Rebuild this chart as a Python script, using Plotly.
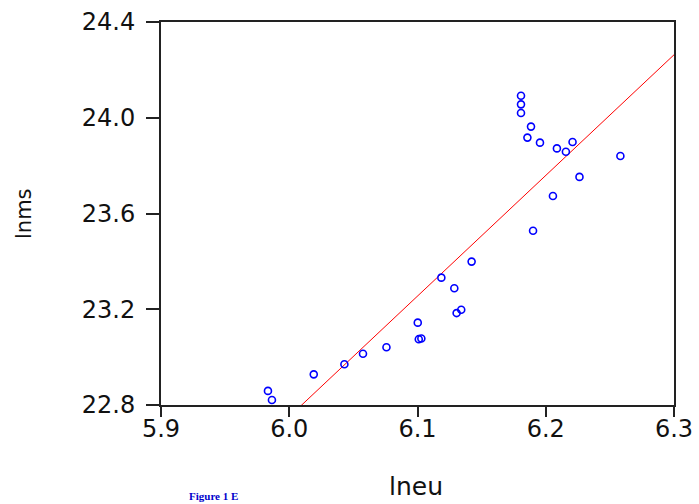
import plotly.graph_objects as go
import numpy as np

# Scatter data (lneu, lnms)
lneu = [6.1807, 6.1807, 6.1807, 6.1885, 6.1857, 6.1955, 6.2087, 6.2157, 6.2209,
        6.2582, 6.2263, 6.2056, 6.1901, 6.1422, 6.1186, 6.1287, 6.1341, 6.1305,
        6.1002, 6.1010, 6.1030, 6.0758, 6.0575, 6.0430, 6.0191, 5.9834, 5.9865]
lnms = [24.092, 24.056, 24.020, 23.963, 23.917, 23.896, 23.872, 23.858, 23.899,
        23.840, 23.753, 23.673, 23.528, 23.399, 23.332, 23.288, 23.198, 23.184,
        23.144, 23.075, 23.078, 23.041, 23.014, 22.970, 22.928, 22.859, 22.821]

# Fitted regression line
fit_slope = 5.04
fit_intercept = -7.489
fit_range = [6.0, 6.3]

x_ticks = [5.9, 6.0, 6.1, 6.2, 6.3]
y_ticks = [22.8, 23.2, 23.6, 24.0, 24.4]

fx = np.array(fit_range)
fy = fit_intercept + fit_slope * fx

fig = go.Figure()
fig.add_trace(go.Scatter(x=fx, y=fy, mode="lines",
                         line=dict(color="#ff0000", width=1),
                         showlegend=False))
fig.add_trace(go.Scatter(x=lneu, y=lnms, mode="markers", xaxis="x2", yaxis="y",
                         marker=dict(symbol="circle-open", size=7, color="#0000ff",
                                     line=dict(width=1.6, color="#0000ff")),
                         showlegend=False, cliponaxis=False))

tickfont = dict(family="DejaVu Sans", size=24, color="#111111")
axis_common = dict(showgrid=False, zeroline=False, showline=True, linecolor="#222222",
                   linewidth=2, mirror=True, ticks="outside", tickcolor="#222222",
                   tickwidth=1.5, tickfont=tickfont, automargin=False)

L, R, T, B = 161, 25, 22, 99
W, H = 699, 504
plot_w = W - L - R
plot_h = H - T - B

fig.update_layout(
    width=W, height=H,
    margin=dict(l=L, r=R, t=T, b=B, pad=0),
    plot_bgcolor="white", paper_bgcolor="white",
    xaxis=dict(range=[5.9, 6.3], tickvals=x_ticks, showticklabels=False,
               ticklen=10, **axis_common),
    # label axis (same scale) so the x tick labels sit closer to the ticks
    xaxis2=dict(range=[5.9, 6.3], overlaying="x", matches="x", anchor="y", side="bottom",
                tickvals=x_ticks, ticktext=[f"{v:.1f}" for v in x_ticks],
                ticks="outside", ticklen=2, tickcolor="rgba(0,0,0,0)",
                showline=False, showgrid=False, zeroline=False,
                tickfont=tickfont, automargin=False),
    yaxis=dict(range=[22.8, 24.4], tickvals=y_ticks, ticktext=[f"{v:.1f}" for v in y_ticks],
               ticklen=13, ticklabelstandoff=6, **axis_common),
    annotations=[
        dict(text="lneu", x=(416 - L) / plot_w, y=-(486 - (H - B)) / plot_h,
             xref="paper", yref="paper", showarrow=False,
             xanchor="center", yanchor="middle",
             font=dict(family="DejaVu Sans", size=25, color="#111111")),
        dict(text="lnms", x=-(L - 24) / plot_w, y=(H - B - 214) / plot_h,
             xref="paper", yref="paper", showarrow=False,
             xanchor="center", yanchor="middle", textangle=-90,
             font=dict(family="DejaVu Sans", size=21, color="#111111")),
        dict(text="<b>Figure 1 E</b>", x=(187 - L) / plot_w, y=-(H - (H - B)) / plot_h,
             xref="paper", yref="paper", showarrow=False,
             xanchor="left", yanchor="bottom",
             font=dict(family="Liberation Serif", size=11, color="#0000cc")),
    ],
)
fig.write_html("out.html")
